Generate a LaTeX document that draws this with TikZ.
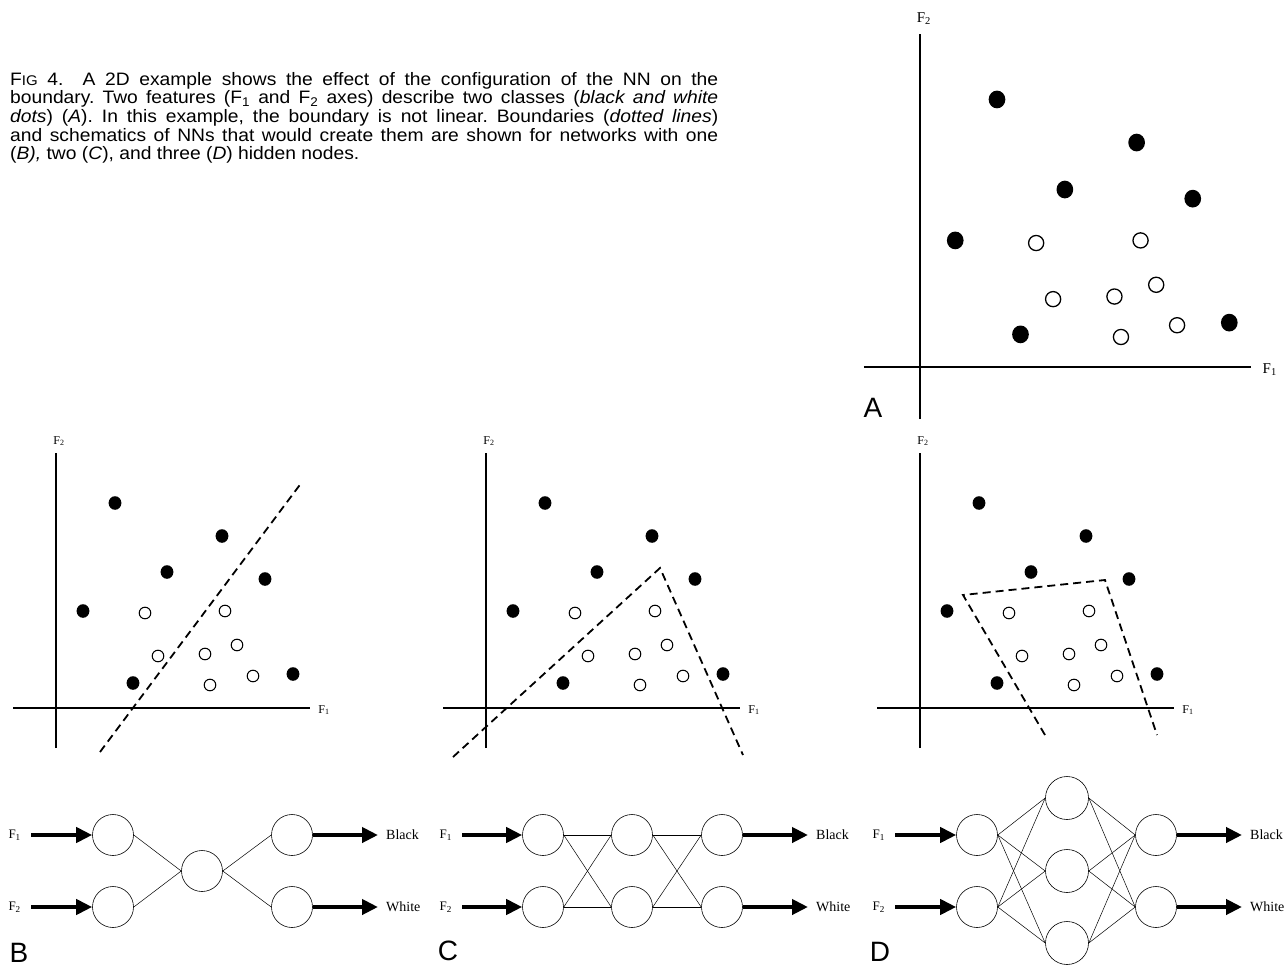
\documentclass[tikz,border=0pt]{standalone}
\usepackage{fontspec}
\setmainfont{Liberation Serif}
\newfontfamily\capfont{Liberation Sans}
\newfontfamily\captionfont[FakeStretch=1.07]{Liberation Sans}
\usetikzlibrary{arrows.meta, positioning}

\tikzset{
    neuron/.style={draw, circle, minimum size=41pt, inner sep=0pt, line width=0.6pt},
    feedin/.style={line width=4pt, -{Triangle[length=16pt, width=15pt]}},
    link/.style={line width=0.5pt},
    axisline/.style={line width=2pt},
    boundary/.style={line width=1.8pt, dash pattern=on 8pt off 5pt},
    whitedot/.style={draw, line width=1pt, fill=white},
    panelletter/.style={font=\capfont\fontsize{28}{28}\selectfont, inner sep=0pt},
    netlabel/.style={font=\fontsize{14}{14}\selectfont, inner xsep=8pt},
    featlabel/.style={font=\fontsize{13}{13}\selectfont, inner xsep=10pt},
}

% scatter plot: #1 scope options, #2 label size, #3 name prefix
\newcommand{\scatterpanel}[3]{%
    \begin{scope}[#1]
        \draw[axisline] (-43,0) -- (254,0);
        \draw[axisline] (0,40) -- (0,-255);
        \node (#3F1) at (268,2) {\fontsize{#2}{#2}\selectfont F\textsubscript{1}};
        \node (#3F2) at (3,-267) {\fontsize{#2}{#2}\selectfont F\textsubscript{2}};
        \foreach \px/\py in {59/-205, 166/-172, 111/-136, 209/-129, 27/-97, 77/-25, 237/-34}
            \fill (\px,\py) circle[x radius=6.4, y radius=6.8];
        \foreach \px/\py in {89/-95, 169/-97, 181/-63, 102/-52, 149/-54, 197/-32, 154/-23}
            \draw[whitedot] (\px,\py) circle[radius=5.8];
    \end{scope}}

\begin{document}
\frenchspacing
\begin{tikzpicture}[x=1pt, y=-1pt]
    \useasboundingbox (0,0) rectangle (1286,966);

    % caption
    \node (caption) [anchor=north west, inner sep=0pt, text width=708pt, align=justify,
        font=\captionfont\fontsize{18}{18.6}\selectfont] at (10,72) {%
        F{\fontsize{14}{14}\selectfont IG} 4.\ \ A 2D example shows the effect of the configuration of the NN on the\linebreak
        boundary. Two features (F\textsubscript{1} and F\textsubscript{2} axes) describe two classes (\textit{black and white}\linebreak
        \textit{dots}) (\textit{A}). In this example, the boundary is not linear. Boundaries (\textit{dotted lines})\linebreak
        and schematics of NNs that would create them are shown for networks with one\linebreak
        (\textit{B),} two (\textit{C}), and three (\textit{D}) hidden nodes.};

    % scatter plots
    \scatterpanel{shift={(920,367)}, scale=1.305, axisline/.style={line width=2.7pt}, whitedot/.style={draw, line width=1.3pt, fill=white}}{15}{a}
    \scatterpanel{shift={(56,708)}}{12}{b}
    \scatterpanel{shift={(486,708)}}{12}{c}
    \scatterpanel{shift={(920,708)}}{12}{d}

    % boundaries
    \draw[boundary] (100,752) -- (302,482);
    \draw[boundary] (453,757) -- (660,568) -- (743,755);
    \draw[boundary] (1045,735) -- (963,595) -- (1105,580) -- (1157,735);

    % panel letters
    \node (letterA) [panelletter] at (873,408) {A};
    \node (letterB) [panelletter] at (19,953) {B};
    \node (letterC) [panelletter] at (448,951) {C};
    \node (letterD) [panelletter] at (880,952) {D};

    % network B: one hidden node
    \node (b-in1) [neuron] at (113,835) {};
    \node (b-in2) [neuron] at (113,907) {};
    \node (b-hid) [neuron] at (202,871) {};
    \node (b-out1) [neuron] at (292,835) {};
    \node (b-out2) [neuron] at (292,907) {};
    \node (b-f1) [featlabel, anchor=east] at (31,835) {F\textsubscript{1}};
    \node (b-f2) [featlabel, anchor=east] at (31,907) {F\textsubscript{2}};
    \node (b-black) [netlabel, anchor=west] at (378,835) {Black};
    \node (b-white) [netlabel, anchor=west] at (378,907) {White};
    \draw[feedin] (b-f1) -- (b-in1);
    \draw[feedin] (b-f2) -- (b-in2);
    \draw[feedin] (b-out1) -- (b-black);
    \draw[feedin] (b-out2) -- (b-white);
    \foreach \i in {1,2} {
        \draw[link] (b-in\i.east) -- (b-hid.west);
        \draw[link] (b-hid.east) -- (b-out\i.west);
    }

    % network C: two hidden nodes
    \node (c-in1) [neuron] at (543,835) {};
    \node (c-in2) [neuron] at (543,907) {};
    \node (c-hid1) [neuron] at (632,835) {};
    \node (c-hid2) [neuron] at (632,907) {};
    \node (c-out1) [neuron] at (722,835) {};
    \node (c-out2) [neuron] at (722,907) {};
    \node (c-f1) [featlabel, anchor=east] at (462,835) {F\textsubscript{1}};
    \node (c-f2) [featlabel, anchor=east] at (462,907) {F\textsubscript{2}};
    \node (c-black) [netlabel, anchor=west] at (808,835) {Black};
    \node (c-white) [netlabel, anchor=west] at (808,907) {White};
    \draw[feedin] (c-f1) -- (c-in1);
    \draw[feedin] (c-f2) -- (c-in2);
    \draw[feedin] (c-out1) -- (c-black);
    \draw[feedin] (c-out2) -- (c-white);
    \foreach \i in {1,2}
        \foreach \j in {1,2} {
            \draw[link] (c-in\i.east) -- (c-hid\j.west);
            \draw[link] (c-hid\i.east) -- (c-out\j.west);
        }

    % network D: three hidden nodes
    \node (d-in1) [neuron] at (977,835) {};
    \node (d-in2) [neuron] at (977,907) {};
    \node (d-hid1) [neuron, minimum size=43pt] at (1067,798) {};
    \node (d-hid2) [neuron, minimum size=43pt] at (1067,871) {};
    \node (d-hid3) [neuron, minimum size=43pt] at (1067,943) {};
    \node (d-out1) [neuron] at (1156,835) {};
    \node (d-out2) [neuron] at (1156,907) {};
    \node (d-f1) [featlabel, anchor=east] at (895,835) {F\textsubscript{1}};
    \node (d-f2) [featlabel, anchor=east] at (895,907) {F\textsubscript{2}};
    \node (d-black) [netlabel, anchor=west] at (1242,835) {Black};
    \node (d-white) [netlabel, anchor=west] at (1242,907) {White};
    \draw[feedin] (d-f1) -- (d-in1);
    \draw[feedin] (d-f2) -- (d-in2);
    \draw[feedin] (d-out1) -- (d-black);
    \draw[feedin] (d-out2) -- (d-white);
    \foreach \i in {1,2}
        \foreach \j in {1,2,3} {
            \draw[link] (d-in\i.east) -- (d-hid\j.west);
            \draw[link] (d-hid\j.east) -- (d-out\i.west);
        }

\end{tikzpicture}
\end{document}
